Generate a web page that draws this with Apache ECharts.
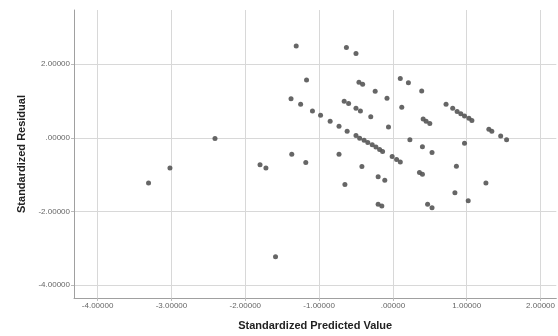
<!DOCTYPE html>
<html>
<head>
<meta charset="utf-8">
<script src="https://cdn.jsdelivr.net/npm/echarts@6/dist/echarts.min.js"></script>
<style>
html,body{margin:0;padding:0;background:#fff;}
#c{width:558px;height:336px;}
</style>
</head>
<body>
<div id="c"></div>
<script>
// Standardized Predicted Value (x) and Standardized Residual (y)
const predicted = [
  -3.31, -3.02, -2.41, -1.80, -1.72, -1.59, -1.37, -1.18, -1.31, -1.17,
  -1.38, -1.25, -1.09, -0.98, -0.85, -0.73, -0.62,
  -0.50, -0.45, -0.39, -0.34, -0.28, -0.23, -0.18, -0.14,
  -0.01, 0.05, 0.10,
  -0.63, -0.50, -0.46, -0.41, -0.24, -0.08, -0.66, -0.60, -0.50, -0.44,
  -0.30, -0.06, 0.10, 0.21, 0.39, 0.12, 0.41, 0.45, 0.50, 0.72,
  0.81, 0.87, 0.92, 0.97, 1.03, 1.07, 1.30, 1.34, 1.46, 1.54,
  0.23, 0.40, 0.53, 0.97, -0.73, -0.42, -0.20, -0.11, -0.65, -0.20, -0.15,
  0.36, 0.40, 0.47, 0.53, 0.86, 0.84, 1.02, 1.26
];
const residual = [
  -1.23, -0.82, -0.02, -0.73, -0.82, -3.23, -0.45, -0.67, 2.49, 1.57,
  1.06, 0.91, 0.73, 0.61, 0.45, 0.31, 0.18,
  0.06, -0.01, -0.07, -0.13, -0.19, -0.25, -0.32, -0.37,
  -0.51, -0.59, -0.66,
  2.45, 2.29, 1.51, 1.45, 1.26, 1.07, 0.99, 0.93, 0.80, 0.73,
  0.57, 0.29, 1.61, 1.49, 1.27, 0.83, 0.51, 0.45, 0.39, 0.91,
  0.80, 0.71, 0.65, 0.59, 0.53, 0.47, 0.23, 0.18, 0.05, -0.05,
  -0.05, -0.24, -0.40, -0.15, -0.45, -0.78, -1.06, -1.15, -1.27, -1.80, -1.85,
  -0.94, -0.99, -1.80, -1.90, -0.77, -1.49, -1.71, -1.23
];
const xTicks = [-4, -3, -2, -1, 0, 1, 2];
const yTicks = [-4, -2, 0, 2];

function fmt(v, ticks) {
  const r = Math.round(v);
  if (Math.abs(v - r) > 1e-6 || ticks.indexOf(r) < 0) return '';
  let s = r.toFixed(5);
  if (s.indexOf('0.') === 0) s = s.slice(1);
  return s;
}

const points = predicted.map((x, i) => [x, residual[i]]);
const font = 'Liberation Sans';
const chart = echarts.init(document.getElementById('c'), null, {renderer: 'canvas'});
chart.setOption({
  backgroundColor: '#ffffff',
  animation: false,
  grid: {left: 74, top: 10, right: 0, bottom: 33, containLabel: false},
  xAxis: {
    type: 'value',
    min: -4.32, max: 2.214,
    minInterval: 1, maxInterval: 1,
    name: 'Standardized Predicted Value',
    nameLocation: 'middle',
    nameGap: 22,
    nameTextStyle: {fontFamily: font, fontWeight: 'bold', fontSize: 11, color: '#222'},
    axisLine: {show: true, onZero: false, lineStyle: {color: '#a0a0a0', width: 1}},
    axisTick: {show: true, length: 3, lineStyle: {color: '#bbbbbb'}},
    axisLabel: {
      show: true, margin: 4, fontFamily: font, fontSize: 8, color: '#666',
      showMinLabel: false, showMaxLabel: false,
      formatter: v => fmt(v, xTicks)
    },
    splitLine: {show: true, showMinLine: false, showMaxLine: false, lineStyle: {color: '#d8d8d8', width: 1}}
  },
  yAxis: {
    type: 'value',
    min: -4.347, max: 3.467,
    minInterval: 2, maxInterval: 2,
    name: 'Standardized Residual',
    nameLocation: 'middle',
    nameGap: 46,
    nameTextStyle: {fontFamily: font, fontWeight: 'bold', fontSize: 11, color: '#222'},
    axisLine: {show: true, onZero: false, lineStyle: {color: '#a0a0a0', width: 1}},
    axisTick: {show: true, length: 3, lineStyle: {color: '#bbbbbb'}},
    axisLabel: {
      show: true, margin: 4, fontFamily: font, fontSize: 8, color: '#666',
      showMinLabel: false, showMaxLabel: false,
      formatter: v => fmt(v, yTicks)
    },
    splitLine: {show: true, showMinLine: false, showMaxLine: false, lineStyle: {color: '#d8d8d8', width: 1}}
  },
  series: [{
    type: 'scatter',
    data: points,
    symbol: 'circle',
    symbolSize: 5,
    itemStyle: {color: '#555555', opacity: 0.9}
  }]
});
</script>
</body>
</html>
